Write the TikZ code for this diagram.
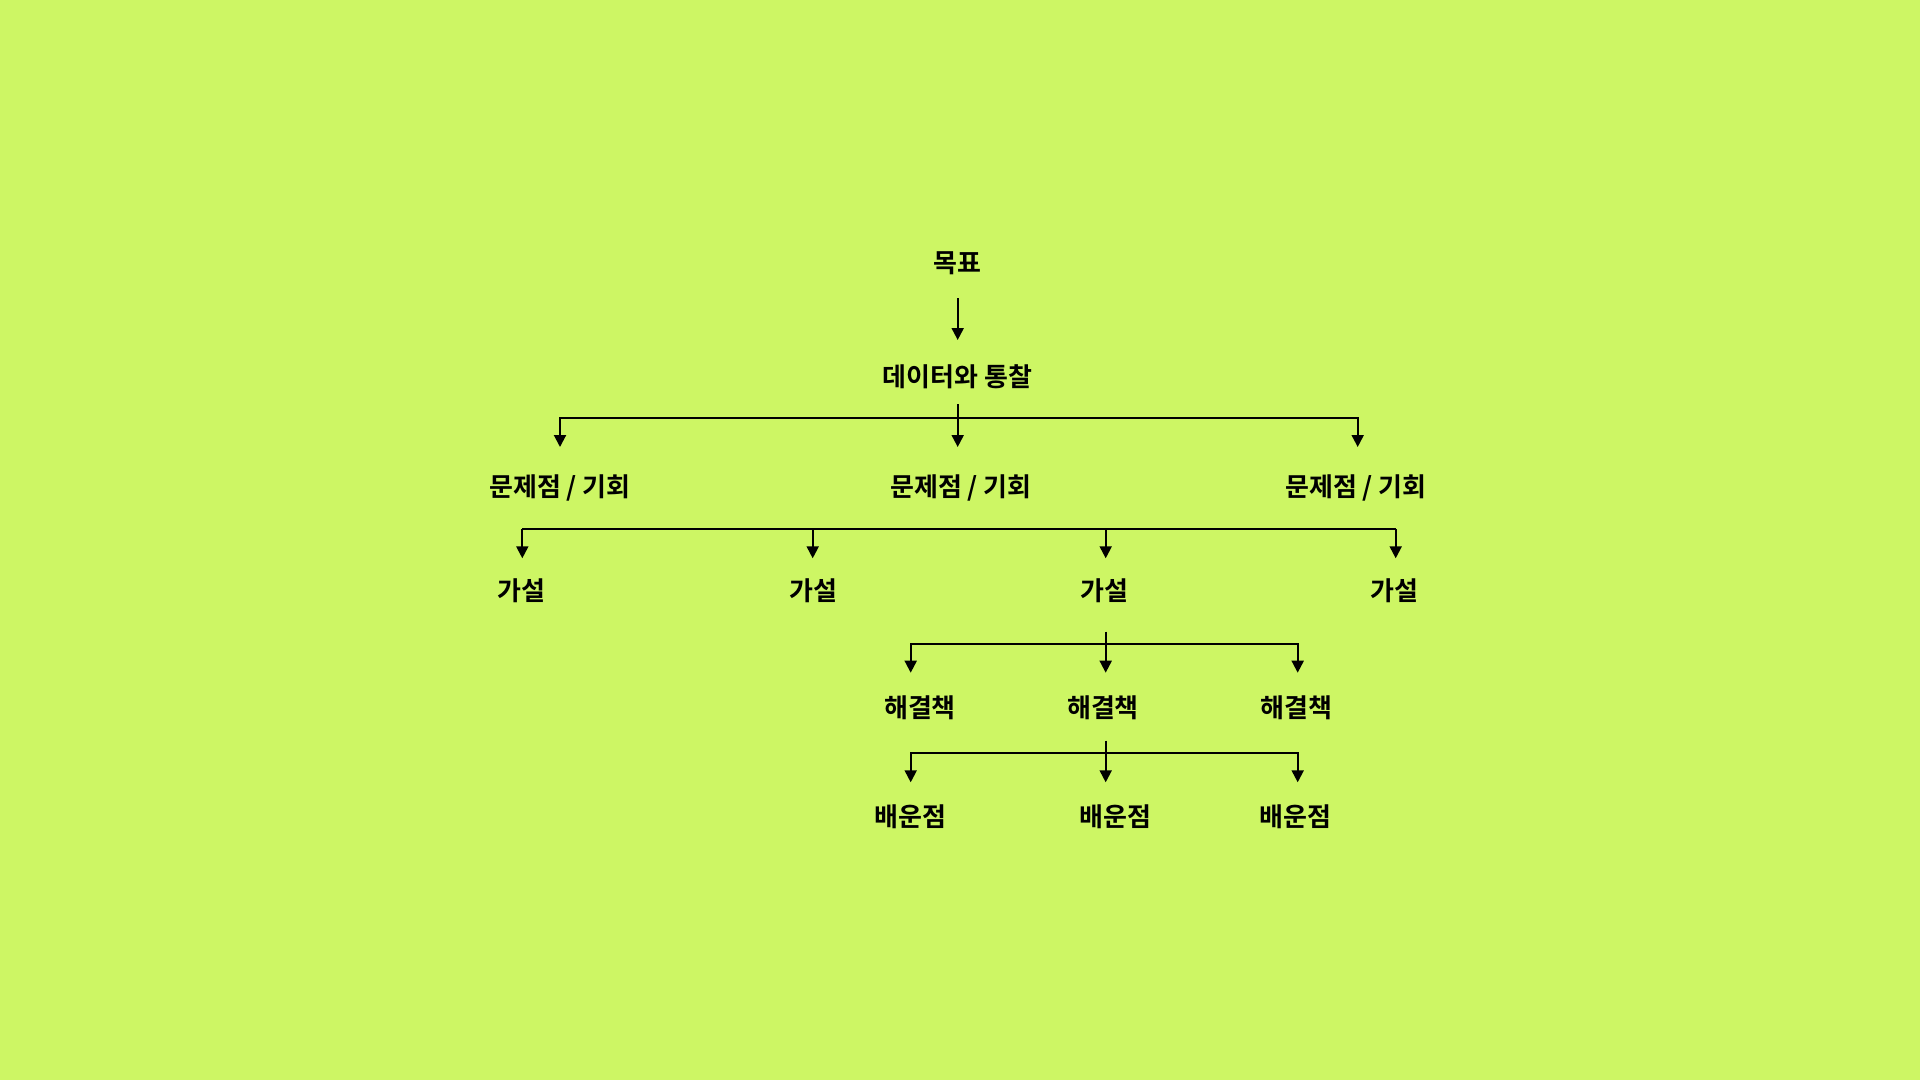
\documentclass[tikz,border=0pt]{standalone}
\usepackage{fontspec}
\setmainfont{Noto Sans CJK KR}[BoldFont={Noto Sans CJK KR Bold}]
\usetikzlibrary{arrows.meta}
\definecolor{bg}{RGB}{205,246,100}
\tikzset{
  lbl/.style={font=\fontsize{26}{30}\selectfont\bfseries, inner sep=0pt, text=black},
  ln/.style={line width=2pt, draw=black},
  arr/.style={ln, -{Triangle[width=12pt,length=12pt]}},
}
\begin{document}
\begin{tikzpicture}[x=1pt,y=-1pt]
\fill[bg] (0,0) rectangle (1920,1080);
\useasboundingbox (0,0) rectangle (1920,1080);
% nodes
\node[lbl] (goal) at (957.5,263) {목표};
\node[lbl] (data) at (957.5,377) {데이터와 통찰};
\node[lbl] (p1) at (560,488) {문제점 / 기회};
\node[lbl] (p2) at (961,488) {문제점 / 기회};
\node[lbl] (p3) at (1356,488) {문제점 / 기회};
\node[lbl] (h1) at (521.6,591) {가설};
\node[lbl] (h2) at (813,591) {가설};
\node[lbl] (h3) at (1104.5,591) {가설};
\node[lbl] (h4) at (1394.7,591) {가설};
\node[lbl] (s1) at (920,708) {해결책};
\node[lbl] (s2) at (1103,708) {해결책};
\node[lbl] (s3) at (1296.7,708) {해결책};
\node[lbl] (l1) at (910.7,817) {배운점};
\node[lbl] (l2) at (1115.5,817) {배운점};
\node[lbl] (l3) at (1295.5,817) {배운점};
% coordinates
\coordinate (goal-out) at (957.7,298);
\coordinate (data-in) at (957.7,340);
\coordinate (data-out) at (957.7,404);
\coordinate (bar1) at (957.7,417.5);
\coordinate (p1-in) at (560,447);
\coordinate (p2-in) at (957.7,447);
\coordinate (p3-in) at (1357.7,447);
\coordinate (bar2L) at (522.3,529.3);
\coordinate (bar2R) at (1395.7,529.3);
\coordinate (h1-in) at (522.3,558.3);
\coordinate (h2-in) at (812.7,558.3);
\coordinate (h3-in) at (1105.7,558.3);
\coordinate (h4-in) at (1395.7,558.3);
\coordinate (h3-out) at (1105.7,631.7);
\coordinate (bar3) at (1105.7,644);
\coordinate (s1-in) at (910.7,672.7);
\coordinate (s2-in) at (1105.7,672.7);
\coordinate (s3-in) at (1297.7,672.7);
\coordinate (s2-out) at (1105.7,740.7);
\coordinate (bar4) at (1105.7,753.3);
\coordinate (l1-in) at (910.7,782.3);
\coordinate (l2-in) at (1105.7,782.3);
\coordinate (l3-in) at (1297.7,782.3);
% connectors
\draw[arr] (goal-out) -- (data-in);
\draw[arr] (data-out) -- (p2-in);
\draw[arr] (bar1) -| (p1-in);
\draw[arr] (bar1) -| (p3-in);
\draw[ln] (bar2L) -- (bar2R);
\draw[arr] (bar2L) -- (h1-in);
\draw[arr] (bar2L -| h2-in) -- (h2-in);
\draw[arr] (bar2L -| h3-in) -- (h3-in);
\draw[arr] (bar2R) -- (h4-in);
\draw[arr] (h3-out) -- (s2-in);
\draw[arr] (bar3) -| (s1-in);
\draw[arr] (bar3) -| (s3-in);
\draw[arr] (s2-out) -- (l2-in);
\draw[arr] (bar4) -| (l1-in);
\draw[arr] (bar4) -| (l3-in);
\end{tikzpicture}
\end{document}
